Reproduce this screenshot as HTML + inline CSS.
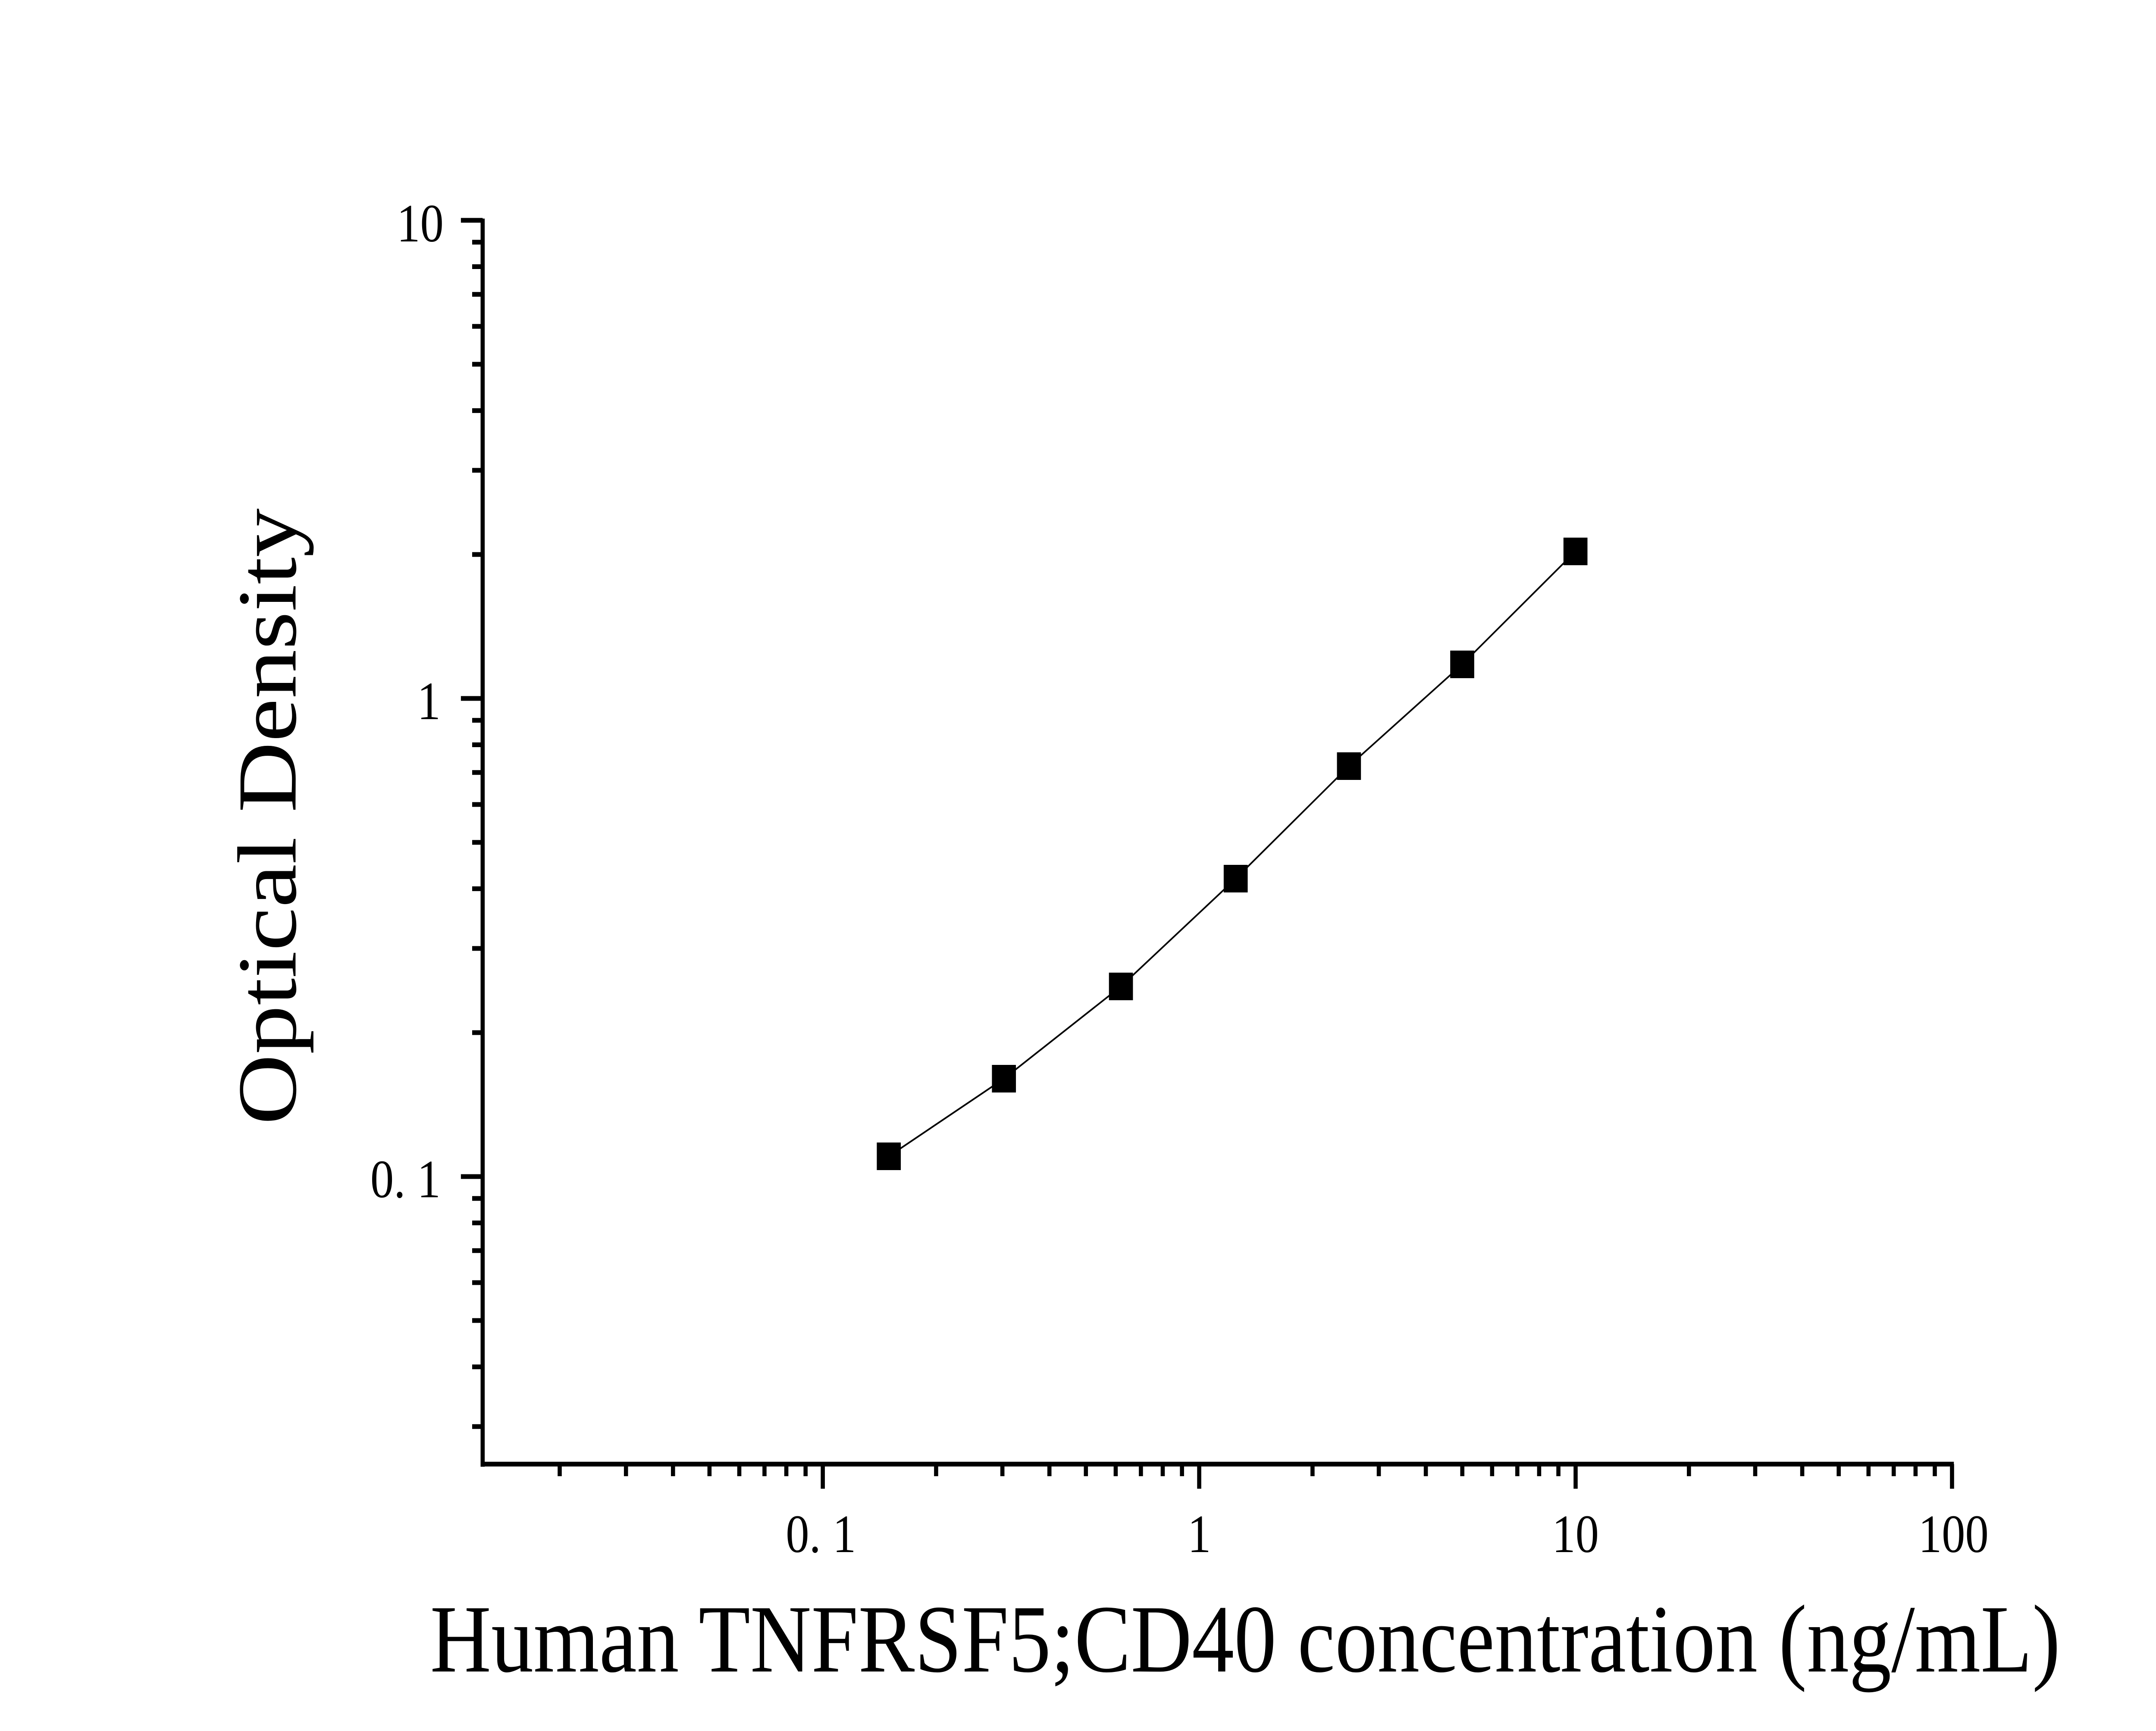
<!DOCTYPE html>
<html><head><meta charset="utf-8"><style>
html,body{margin:0;padding:0;background:#fff;overflow:hidden;width:100vw;height:100vh;}
svg{display:block;width:100vw;height:100vh;}
text{font-family:"Liberation Serif","Noto Serif CJK SC",serif;fill:#000;}
</style></head><body>
<svg viewBox="0 0 5749 4015" preserveAspectRatio="none" xmlns="http://www.w3.org/2000/svg">
<rect width="5749" height="4015" fill="#fff"/>
<g stroke="#000" fill="none">
<line x1="1287" y1="507" x2="1287" y2="3402" stroke-width="11"/>
<line x1="1282" y1="3396" x2="5210" y2="3396" stroke-width="11"/>
<g stroke-width="11" id="yt"></g>
<g stroke-width="11" id="xt"></g>
</g>
<polyline fill="none" stroke="#000" stroke-width="4" points="2370,2682 2677,2502 2989,2288 3295,2038 3597,1777 3899,1541 4201,1279"/>
<g id="pts" fill="#000"></g>
<g font-size="125">
<text x="1183" y="560" text-anchor="end">10</text>
<text x="1175" y="1668" text-anchor="end">1</text>
<text x="1175" y="2777" text-anchor="end">0. 1</text>
<text x="2189" y="3600" text-anchor="middle">0. 1</text>
<text x="3198" y="3600" text-anchor="middle">1</text>
<text x="4201" y="3600" text-anchor="middle">10</text>
<text x="5209" y="3600" text-anchor="middle">100</text>
</g>
<text x="1147" y="3877" font-size="224" textLength="4347" lengthAdjust="spacingAndGlyphs">Human TNFRSF5;CD40 concentration (ng/mL)</text>
<text transform="translate(788,2609) rotate(-90)" x="0" y="0" font-size="224" textLength="1430" lengthAdjust="spacingAndGlyphs">Optical Density</text>
</svg>
<script>
var ns="http://www.w3.org/2000/svg";
function L(g,x1,y1,x2,y2){var l=document.createElementNS(ns,"line");l.setAttribute("x1",x1);l.setAttribute("y1",y1);l.setAttribute("x2",x2);l.setAttribute("y2",y2);g.appendChild(l);}
var yt=document.getElementById("yt"),xt=document.getElementById("xt");
function Y(v){return 1620-1109*Math.log10(v);}
function X(v){return 2194+1003.7*Math.log10(v/0.1);}
[0.01,0.1,1].forEach(function(d){for(var k=1;k<=9;k++){var v=d*k;if(v<0.025||v>10.001)continue;var y=Y(v);L(yt,k==1?1229:1259,y,1287,y);}});
L(yt,1229,Y(10),1287,Y(10));
[0.01,0.1,1,10].forEach(function(d){for(var k=1;k<=9;k++){var v=d*k;if(v<0.0126)continue;var x=X(v);L(xt,x,3396,x,k==1?3453:3424);}});
L(xt,X(100),3396,X(100),3453);
var pts=document.getElementById("pts");
[[2370,2682],[2677,2502],[2989,2288],[3295,2038],[3597,1777],[3899,1541],[4201,1279]].forEach(function(p){var r=document.createElementNS(ns,"rect");r.setAttribute("x",p[0]-32);r.setAttribute("y",p[1]-32);r.setAttribute("width",64);r.setAttribute("height",64);pts.appendChild(r);});
</script>
</body></html>
